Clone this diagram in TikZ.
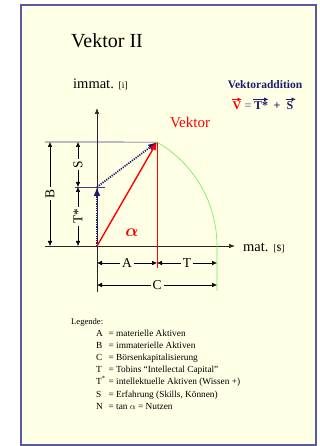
\documentclass[tikz,border=0pt]{standalone}
\usepackage{fontspec}
\setmainfont{Liberation Serif}
\usepackage{amsmath}
\usetikzlibrary{arrows.meta, positioning, calc}

\definecolor{hintergrund}{HTML}{FFFFE6}
\definecolor{rahmen}{HTML}{5A5AA0}
\definecolor{dunkelblau}{HTML}{1C1C70}
\definecolor{hellgruen}{HTML}{66EE55}

\begin{document}
\begin{tikzpicture}[
        x=1pt, y=1pt,
        every node/.style={inner sep=1pt},
        achse/.style={-{Latex[length=6pt, width=4.5pt]}, line width=0.6pt, draw=black!85},
        hilfslinie/.style={line width=0.6pt, draw=dunkelblau!85},
        masz/.style={{Latex[length=5pt, width=4.5pt]}-{Latex[length=5pt, width=4.5pt]},
            line width=0.5pt, draw=black},
        maszlabel/.style={fill=hintergrund, font=\fontsize{13.5}{13.5}\selectfont, inner sep=2pt},
        teilpfeil/.style={-{Latex[length=9pt, width=7pt]}, line width=1.7pt,
            dash pattern=on 1.2pt off 1.1pt, draw=dunkelblau},
        vektorpfeil/.style={-{Latex[length=8pt, width=6.5pt]}, line width=1.4pt, draw=red},
        gleich/.style={anchor=base, inner sep=0.5pt, font=\fontsize{12}{12}\selectfont\bfseries},
        ueberpfeil/.style={-{Latex[length=4.5pt, width=4pt]}, line width=0.9pt},
        legtext/.style={font=\fontsize{9.3}{12.2}\selectfont, inner sep=0pt}
    ]
\useasboundingbox (-97,-200) rectangle (223,246);

% --- Rahmen ---
        \draw[rahmen, line width=1.4pt, fill=hintergrund] (-76,-199) rectangle (219,241);

% --- Punkte ---
        \coordinate (O) at (0,0);
        \coordinate (V) at (60:120);
        \coordinate (Tst) at (0,59);
        \coordinate (C) at (120,0);

% --- Achsen ---
        \draw[achse] (0,-46) -- (0,138);
        \draw[achse] (-52,0) -- (138,0);

% --- Hilfslinien ---
        \draw[hilfslinie] (-52,104) -- (V);
        \draw[hilfslinie] (-22,59) -- (8,59);
        \draw[red, line width=0.5pt] (V) -- (60,-22);
        \draw[hellgruen, line width=0.6pt] (V) arc[start angle=60, end angle=0, radius=120]
            -- (120,-45);

% --- Vektoren ---
        \draw[teilpfeil] (O) -- (Tst);
        \draw[teilpfeil] (Tst) -- (V);
        \draw[vektorpfeil] (O) -- (V);

% --- Bemassung ---
        \draw[masz] (-47,104) -- node[maszlabel, rotate=90] {B} (-47,0);
        \draw[masz] (-19,104) -- node[maszlabel, rotate=90] {S} (-19,59);
        \draw[masz] (-19,59) -- node[maszlabel, rotate=90] {T*} (-19,0);
        \draw[masz] (0,-17) -- node[maszlabel] {A} (60,-17);
        \draw[masz] (60,-17) -- node[maszlabel] {T} (120,-17);
        \draw[masz] (0,-39) -- node[maszlabel] {C} (120,-39);

% --- Beschriftung ---
        \node[anchor=base west, font=\fontsize{20}{20}\selectfont] (titel) at (-27,198) {Vektor II};
        \node[anchor=base west, font=\fontsize{14.5}{15}\selectfont] (immat) at (-25,157)
            {immat. {\fontsize{9.5}{10}\selectfont[i]}};
        \node[anchor=base west, font=\fontsize{14.5}{15}\selectfont] (mat) at (145,-6)
            {mat. {\fontsize{9.5}{10}\selectfont[\$]}};
        \node[anchor=base, red, font=\fontsize{15}{15}\selectfont] (vektor) at (93,118) {Vektor};
        \node[red, font=\fontsize{16}{16}\selectfont] (alpha) at (35,13) {$\boldsymbol{\alpha}$};

% --- Vektoraddition ---
        \node[anchor=base, dunkelblau, font=\fontsize{11.5}{12}\selectfont\bfseries] (vadd) at (168,157)
            {Vektoraddition};
        \node[gleich, red] (eqV) at (140,136) {V};
        \node[gleich, dunkelblau!60] (eqgl) at (151,136) {=};
        \node[gleich, dunkelblau] (eqT) at (164,136) {T*};
        \node[gleich, dunkelblau] (eqpl) at (180,136) {+};
        \node[gleich, dunkelblau] (eqS) at (193,136) {S};
        \draw[ueberpfeil, red] ([yshift=2pt]eqV.north west) -- ([yshift=2pt]eqV.north east);
        \draw[ueberpfeil, dunkelblau] ([yshift=2pt]eqT.north west) -- ([yshift=2pt]eqT.north east);
        \draw[ueberpfeil, dunkelblau] ([yshift=2pt]eqS.north west) -- ([yshift=2pt, xshift=2pt]eqS.north east);

% --- Legende ---
        \node[anchor=base west, font=\fontsize{8.6}{10}\selectfont] (legende) at (-27,-78) {Legende:};
        \node[legtext, anchor=base west] (liste) at (-1,-90)
            {\begin{tabular}[t]{@{}l@{\hspace{3pt}}l@{}}
            A & = materielle Aktiven\\
            B & = immaterielle Aktiven\\
            C & = Börsenkapitalisierung\\
            T & = Tobins “Intellectal Capital”\\
            T\textsuperscript{*} & = intellektuelle Aktiven (Wissen +)\\
            S & = Erfahrung (Skills, Können)\\
            N & = tan $\alpha$ = Nutzen
            \end{tabular}};
\end{tikzpicture}
\end{document}
